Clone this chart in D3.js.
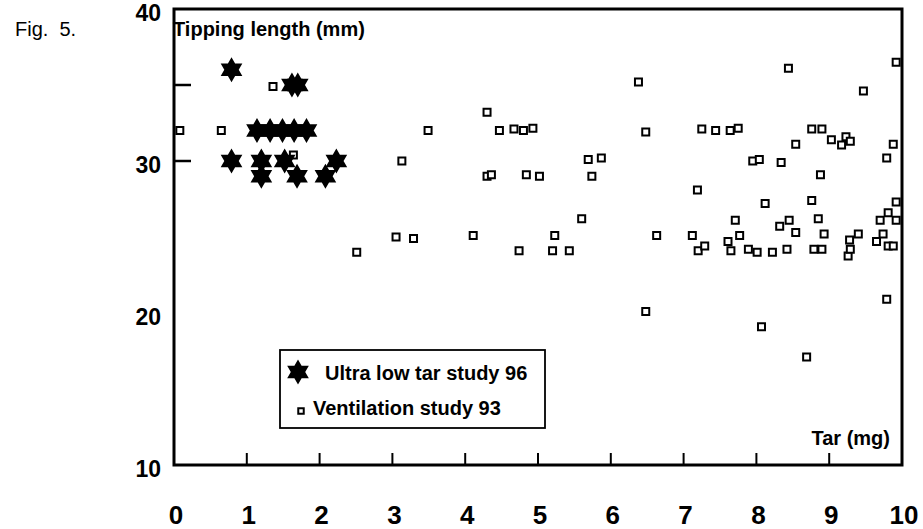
<!DOCTYPE html>
<html><head><meta charset="utf-8">
<script src="https://cdn.jsdelivr.net/npm/d3@7"></script>
<style>body{margin:0;background:#fff} svg{display:block}</style>
</head><body><svg id="c" width="923" height="529"></svg>
<script>
// ---- data ----
const starTar = [0.79, 1.62, 1.70, 1.14, 1.32, 1.49, 1.65, 1.82, 0.79, 1.20, 1.52, 2.23, 1.20, 1.69, 2.08];
const starTip = [36, 35, 35, 32, 32, 32, 32, 32, 30, 30, 30, 30, 29, 29, 29];

const ventTar = [0.08, 0.65, 1.36, 1.64, 2.51, 3.05, 3.13, 3.29, 3.49, 4.11, 4.30, 4.30, 4.36, 4.47, 4.67, 4.74, 4.80, 4.93,
  4.84, 5.02, 5.20, 5.23, 5.43, 5.60, 5.69, 5.74, 5.87, 6.38, 6.48, 6.48, 6.63, 7.12, 7.19, 7.20, 7.29, 7.25, 7.44,
  7.61, 7.65, 7.64, 7.71, 7.75, 7.77, 7.89, 7.95, 8.01, 8.04, 8.07, 8.12, 8.22, 8.32, 8.34, 8.42, 8.44, 8.45, 8.54,
  8.54, 8.69, 8.76, 8.76, 8.79, 8.85, 8.88, 8.90, 8.90, 8.93, 9.03, 9.17, 9.23, 9.29, 9.26, 9.28, 9.29, 9.40, 9.47,
  9.65, 9.70, 9.74, 9.79, 9.79, 9.81, 9.81, 9.88, 9.88, 9.92, 9.92, 9.92];
const ventTip = [32.0, 32.0, 34.9, 30.4, 24.0, 25.0, 30.0, 24.9, 32.0, 25.1, 33.2, 29.0, 29.1, 32.0, 32.1, 24.1, 32.0, 32.15,
  29.1, 29.0, 24.1, 25.1, 24.1, 26.2, 30.1, 29.0, 30.2, 35.2, 31.9, 20.1, 25.1, 25.1, 28.1, 24.1, 24.4, 32.1, 32.0,
  24.7, 24.1, 32.0, 26.1, 32.15, 25.1, 24.2, 30.0, 24.0, 30.1, 19.1, 27.2, 24.0, 25.7, 29.9, 24.2, 36.1, 26.1, 31.1,
  25.3, 17.1, 32.1, 27.4, 24.2, 26.2, 29.1, 32.1, 24.2, 25.2, 31.4, 31.05, 31.6, 31.3, 23.75, 24.8, 24.2, 25.2, 34.6,
  24.7, 26.1, 25.2, 30.2, 20.9, 26.6, 24.4, 31.1, 24.4, 36.5, 27.3, 26.1];

const xTickLabels = [0,1,2,3,4,5,6,7,8,9,10];
const xInnerTicks = [1,2,3,4,5,6,7,8,9];
const yTickLabels = [10,20,30,40];
const yInnerTicks = [30,35];
const legendLabels = ["Ultra low tar study 96", "Ventilation study 93"];
const figLabel = "Fig.  5.";
const yTitle = "Tipping length (mm)";
const xTitle = "Tar (mg)";

// ---- drawing ----
const svg = d3.select("#c");
const FONT = "'Liberation Sans', Arial, Helvetica, sans-serif";
const x = d3.scaleLinear().domain([0,10]).range([174,902]);
const y = d3.scaleLinear().domain([10,40]).range([465,9]);

const hexagram = {
  draw(ctx, R) {
    const ri = R/Math.sqrt(3);
    for (let i=0;i<12;i++){
      const a = -Math.PI/2 + i*Math.PI/6;
      const r = i%2 ? ri : R;
      const px = r*Math.cos(a), py = r*Math.sin(a);
      if (i===0) ctx.moveTo(px,py); else ctx.lineTo(px,py);
    }
    ctx.closePath();
  }
};
const starPath = d3.symbol().type(hexagram).size(12.5)();
const sqPath = d3.symbol().type(d3.symbolSquare).size(49)();

// frame
svg.append("rect").attr("x", x(0)).attr("y", y(40))
  .attr("width", x(10)-x(0)).attr("height", y(10)-y(40))
  .attr("fill","none").attr("stroke","#000").attr("stroke-width",3);

// inner ticks
svg.append("g").selectAll("line").data(xInnerTicks).join("line")
  .attr("x1", d=>x(d)).attr("x2", d=>x(d))
  .attr("y1", y(10)).attr("y2", y(10)-12)
  .attr("stroke","#000").attr("stroke-width",2);
svg.append("g").selectAll("line").data(yInnerTicks).join("line")
  .attr("x1", x(0)).attr("x2", x(0)+17)
  .attr("y1", d=>y(d)).attr("y2", d=>y(d))
  .attr("stroke","#000").attr("stroke-width",2.5);

// tick labels
svg.append("g").selectAll("text").data(xTickLabels).join("text")
  .attr("x", d=>x(d)+2).attr("y", 515)
  .attr("text-anchor","middle").attr("dominant-baseline","central")
  .attr("font-family",FONT).attr("font-weight","bold").attr("font-size",26)
  .text(d=>d);
svg.append("g").selectAll("text").data(yTickLabels).join("text")
  .attr("x", 161).attr("y", d=>y(d)+4)
  .attr("text-anchor","end").attr("dominant-baseline","central")
  .attr("font-family",FONT).attr("font-weight","bold").attr("font-size",23)
  .text(d=>d);

// titles
svg.append("text").attr("x",173).attr("y",29).attr("dominant-baseline","central")
  .attr("font-family",FONT).attr("font-weight","bold").attr("font-size",20).text(yTitle);
svg.append("text").attr("x",890).attr("y",438).attr("text-anchor","end").attr("dominant-baseline","central")
  .attr("font-family",FONT).attr("font-weight","bold").attr("font-size",20).text(xTitle);
svg.append("text").attr("x",15).attr("y",29).attr("dominant-baseline","central")
  .attr("font-family",FONT).attr("font-size",20).style("white-space","pre").text(figLabel);

// ventilation squares
svg.append("g").selectAll("path").data(ventTar.map((t,i)=>[t,ventTip[i]])).join("path")
  .attr("d", sqPath).attr("transform", d=>`translate(${x(d[0])},${y(d[1])})`)
  .attr("fill","#fff").attr("stroke","#000").attr("stroke-width",2);

// stars
svg.append("g").selectAll("path").data(starTar.map((t,i)=>[t,starTip[i]])).join("path")
  .attr("d", starPath).attr("transform", d=>`translate(${x(d[0])},${y(d[1])})`)
  .attr("fill","#000");

// legend
const lg = svg.append("g");
lg.append("rect").attr("x",280).attr("y",350).attr("width",265).attr("height",78)
  .attr("fill","#fff").attr("stroke","#000").attr("stroke-width",1.8);
lg.append("path").attr("d", starPath).attr("transform","translate(298,372)").attr("fill","#000");
lg.append("path").attr("d", d3.symbol().type(d3.symbolSquare).size(30)()).attr("transform","translate(301,411)")
  .attr("fill","#fff").attr("stroke","#000").attr("stroke-width",2);
lg.selectAll("text").data(legendLabels).join("text")
  .attr("x",(d,i)=> i===0 ? 325 : 313).attr("y",(d,i)=> i===0 ? 373 : 408)
  .attr("dominant-baseline","central")
  .attr("font-family",FONT).attr("font-weight","bold").attr("font-size",20).text(d=>d);
</script></body></html>
